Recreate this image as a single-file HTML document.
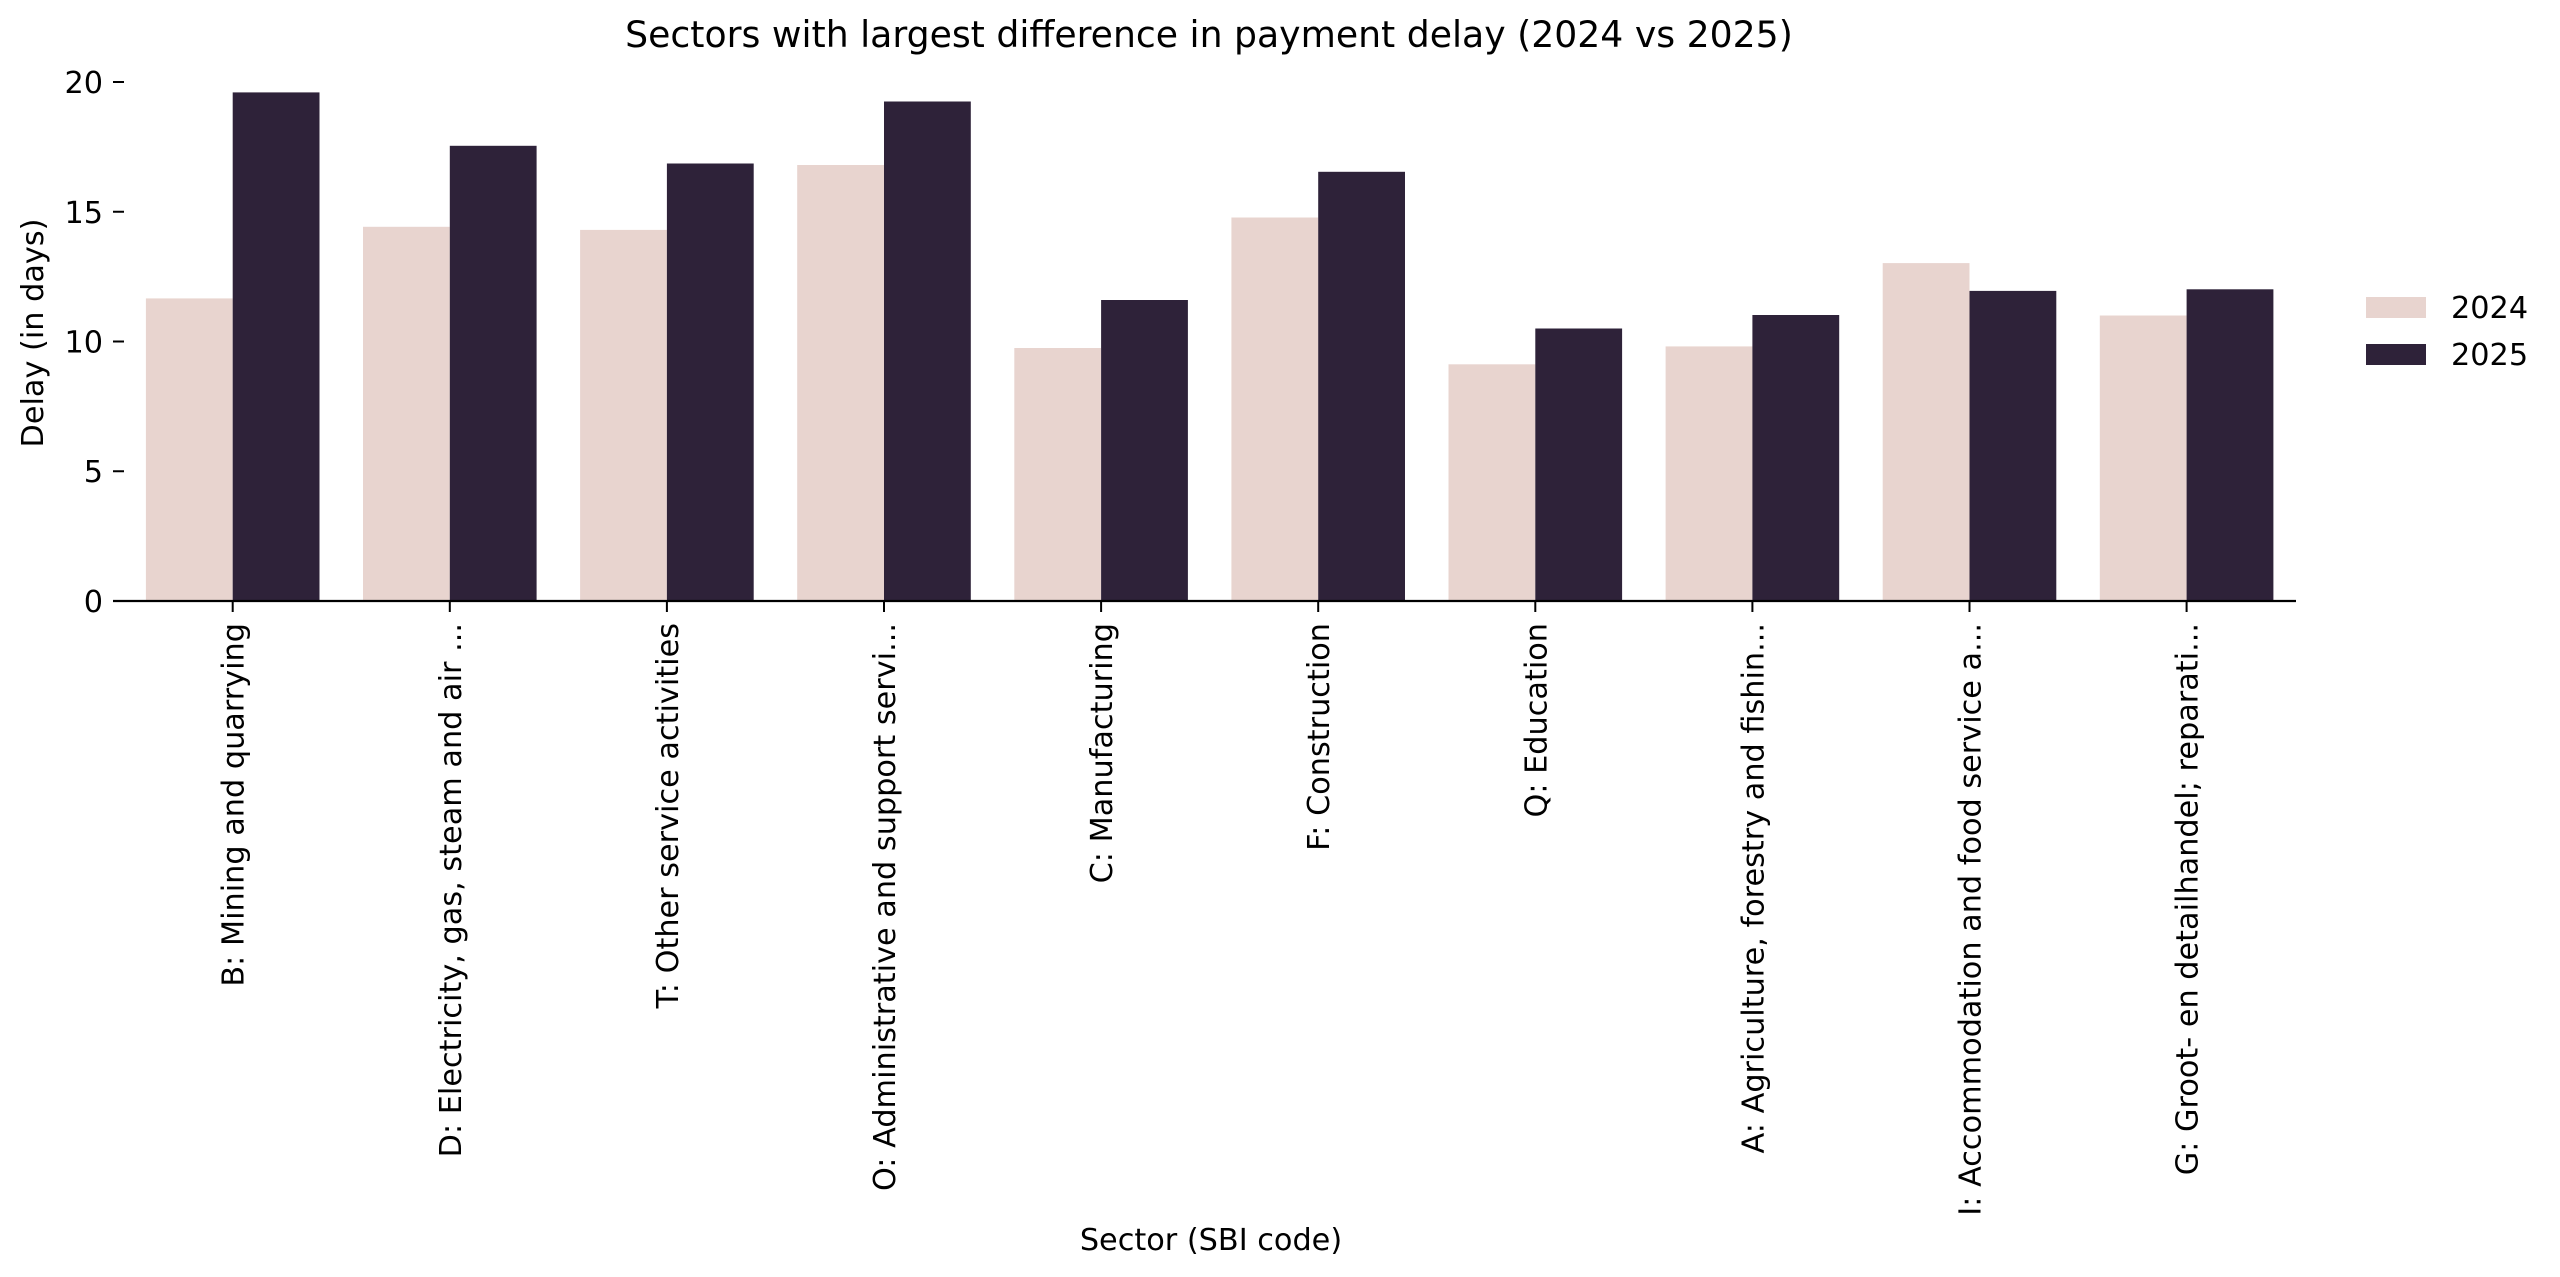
<!DOCTYPE html>
<html><head><meta charset="utf-8"><style>html,body{margin:0;padding:0;background:#fff}svg{display:block}text{font-family:"DejaVu Sans","Liberation Sans",sans-serif;fill:#000}</style></head>
<body>
<svg width="2560" height="1277" viewBox="0 0 2560 1277" xmlns="http://www.w3.org/2000/svg">
<text x="1209" y="47" font-size="36.2" text-anchor="middle">Sectors with largest difference in payment delay (2024 vs 2025)</text>
<g fill="#e8d4cf">
<rect x="145.9" y="298.4" width="86.8" height="302.6"/>
<rect x="363.0" y="226.8" width="86.8" height="374.2"/>
<rect x="580.1" y="229.9" width="86.8" height="371.1"/>
<rect x="797.2" y="165.0" width="86.8" height="436.0"/>
<rect x="1014.3" y="348.0" width="86.8" height="253.0"/>
<rect x="1231.4" y="217.5" width="86.8" height="383.5"/>
<rect x="1448.5" y="364.3" width="86.8" height="236.7"/>
<rect x="1665.6" y="346.4" width="86.8" height="254.6"/>
<rect x="1882.7" y="263.1" width="86.8" height="337.9"/>
<rect x="2099.8" y="315.5" width="86.8" height="285.5"/>
</g>
<g fill="#2e2239">
<rect x="232.7" y="92.4" width="86.8" height="508.6"/>
<rect x="449.8" y="145.8" width="86.8" height="455.2"/>
<rect x="666.9" y="163.5" width="86.8" height="437.5"/>
<rect x="884.0" y="101.5" width="86.8" height="499.5"/>
<rect x="1101.1" y="300.0" width="86.8" height="301.0"/>
<rect x="1318.2" y="171.8" width="86.8" height="429.2"/>
<rect x="1535.3" y="328.5" width="86.8" height="272.5"/>
<rect x="1752.4" y="315.0" width="86.8" height="286.0"/>
<rect x="1969.5" y="290.9" width="86.8" height="310.1"/>
<rect x="2186.6" y="289.3" width="86.8" height="311.7"/>
</g>
<line x1="113" y1="601" x2="2296" y2="601" stroke="#000" stroke-width="2.2"/>
<g font-size="30.3" text-anchor="end">
<g stroke="#000" stroke-width="2">
<line x1="113" y1="601" x2="124" y2="601"/>
<line x1="113" y1="471.25" x2="124" y2="471.25"/>
<line x1="113" y1="341.5" x2="124" y2="341.5"/>
<line x1="113" y1="211.75" x2="124" y2="211.75"/>
<line x1="113" y1="82" x2="124" y2="82"/>
</g>
<text x="103" y="612">0</text>
<text x="103" y="482">5</text>
<text x="103" y="352.5">10</text>
<text x="103" y="223">15</text>
<text x="103" y="93">20</text>
</g>
<text transform="translate(43,333) rotate(-90)" font-size="30.3" text-anchor="middle">Delay (in days)</text>
<text x="1211" y="1250" font-size="30.3" text-anchor="middle">Sector (SBI code)</text>
<rect x="2366" y="297" width="60" height="21" fill="#e8d4cf"/>
<rect x="2366" y="344" width="60" height="21" fill="#2e2239"/>
<text x="2451" y="318" font-size="30.3">2024</text>
<text x="2451" y="365" font-size="30.3">2025</text>
<g stroke="#000" stroke-width="2">
<line x1="232.7" y1="601" x2="232.7" y2="612"/>
<line x1="449.8" y1="601" x2="449.8" y2="612"/>
<line x1="666.9" y1="601" x2="666.9" y2="612"/>
<line x1="884.0" y1="601" x2="884.0" y2="612"/>
<line x1="1101.1" y1="601" x2="1101.1" y2="612"/>
<line x1="1318.2" y1="601" x2="1318.2" y2="612"/>
<line x1="1535.3" y1="601" x2="1535.3" y2="612"/>
<line x1="1752.4" y1="601" x2="1752.4" y2="612"/>
<line x1="1969.5" y1="601" x2="1969.5" y2="612"/>
<line x1="2186.6" y1="601" x2="2186.6" y2="612"/>
</g>
<g font-size="30.3" text-anchor="end">
<text transform="translate(243.7,623) rotate(-90)">B: Mining and quarrying</text>
<text transform="translate(460.8,623) rotate(-90)">D: Electricity, gas, steam and air ...</text>
<text transform="translate(677.9,623) rotate(-90)">T: Other service activities</text>
<text transform="translate(895.0,623) rotate(-90)">O: Administrative and support servi...</text>
<text transform="translate(1112.1,623) rotate(-90)">C: Manufacturing</text>
<text transform="translate(1329.2,623) rotate(-90)">F: Construction</text>
<text transform="translate(1546.3,623) rotate(-90)">Q: Education</text>
<text transform="translate(1763.4,623) rotate(-90)">A: Agriculture, forestry and fishin...</text>
<text transform="translate(1980.5,623) rotate(-90)">I: Accommodation and food service a...</text>
<text transform="translate(2197.6,623) rotate(-90)">G: Groot- en detailhandel; reparati...</text>
</g>
</svg>
</body></html>
